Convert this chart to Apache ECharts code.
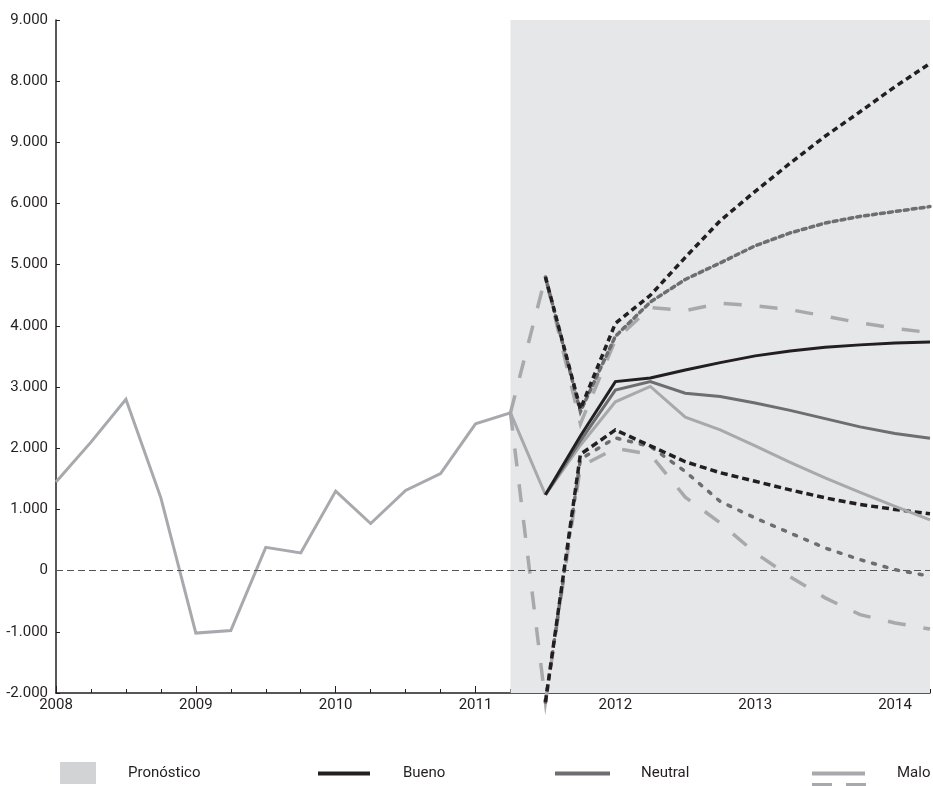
<!DOCTYPE html>
<html>
<head>
<meta charset="utf-8">
<script src="https://cdn.jsdelivr.net/npm/echarts@6/dist/echarts.min.js"></script>
<style>
html,body{margin:0;padding:0;background:#fff;}
#chart{width:933px;height:786px;}
</style>
</head>
<body>
<div id="chart"></div>
<script>
// ---- Data ----
const years = ['2008','2009','2010','2011','2012','2013','2014'];
const quarters = ['T1','T2','T3','T4'];
const yTickLabels = ['-2.000','-1.000','0','1.000','2.000','3.000','4.000','5.000','6.000','9.000','8.000','9.000'];

// historical (2008T1 .. 2011T3)
const historico = [1450, 2100, 2800, 1190, -1020, -980, 380, 290, 1300, 770, 1310, 1585, 2400, 2580, 1240];

// scenarios (2011T3 .. 2014T2)
const bueno   = [1240, 2200, 3090, 3150, 3280, 3400, 3510, 3590, 3650, 3690, 3720, 3735];
const neutral = [1240, 2120, 2950, 3090, 2900, 2845, 2740, 2620, 2485, 2350, 2240, 2165];
const malo    = [1240, 2050, 2760, 3010, 2510, 2300, 2040, 1770, 1515, 1280, 1050, 830];

// bands (2011T3 .. 2014T2)
const buenoAlto   = [4800, 2640, 4040, 4500, 5120, 5720, 6200, 6660, 7100, 7500, 7910, 8290];
const buenoBajo   = [-2150, 1900, 2300, 2040, 1780, 1600, 1460, 1320, 1190, 1080, 1000, 930];
const neutralAlto = [4800, 2600, 3830, 4390, 4760, 5030, 5310, 5520, 5680, 5790, 5870, 5950];
const neutralBajo = [-2150, 1820, 2170, 2030, 1620, 1130, 860, 615, 370, 180, 15, -90];
// Malo bands (2011T2 .. 2014T2)
const maloAlto = [2580, 4800, 2400, 3770, 4300, 4250, 4370, 4330, 4265, 4160, 4050, 3960, 3890];
const maloBajo = [2580, -2150, 1700, 2000, 1900, 1200, 780, 290, -100, -445, -720, -855, -955];

// ---- Build ----
const xCategories = [];
years.forEach(y => quarters.forEach(q => xCategories.push(y + q)));
xCategories.length = 26; // 2008T1 .. 2014T2

function pad(arr, start) {
  const out = new Array(start).fill(null).concat(arr);
  while (out.length < xCategories.length) out.push(null);
  return out;
}

const FONT = 'Roboto, "Liberation Sans", sans-serif';
const C_BUENO = '#231f20', C_NEUTRAL = '#6d6e71', C_MALO = '#a7a9ac';

function lineSeries(name, data, color, width, type, cap, z) {
  return {
    name: name, type: 'line', data: data, symbol: 'none', smooth: false,
    clip: false, z: z || 3, silent: true, connectNulls: false,
    lineStyle: { color: color, width: width, type: type, cap: cap || 'butt', join: 'miter' },
    itemStyle: { color: color }
  };
}

const chart = echarts.init(document.getElementById('chart'), null, { renderer: 'canvas' });

const legendText = { fontFamily: FONT, fontSize: 15, color: '#231f20' };

const option = {
  animation: false,
  backgroundColor: '#ffffff',
  textStyle: { fontFamily: FONT },
  grid: { left: 56, right: 3, top: 20, bottom: 93, containLabel: false },
  xAxis: [{
    type: 'category', data: xCategories, boundaryGap: false,
    axisLine: { show: true, onZero: false, lineStyle: { color: '#231f20', width: 1.5 } },
    axisTick: { show: true, inside: true, length: 4, interval: 0, lineStyle: { color: '#231f20', width: 1 } },
    axisLabel: {
      interval: 3, margin: 5, color: '#231f20', fontSize: 15, fontFamily: FONT,
      formatter: v => v.slice(0, 4)
    },
    splitLine: { show: false }
  }, {
    type: 'category', data: xCategories, boundaryGap: false, position: 'bottom',
    axisLine: { show: false, onZero: false },
    axisTick: { show: true, inside: true, length: 7, interval: 3, lineStyle: { color: '#231f20', width: 1 } },
    axisLabel: { show: false }, splitLine: { show: false }
  }],
  yAxis: {
    type: 'value', min: -2000, max: 9000, interval: 1000,
    axisLine: { show: true, onZero: false, lineStyle: { color: '#231f20', width: 1.5 } },
    axisTick: { show: true, inside: true, length: 4, lineStyle: { color: '#231f20', width: 1 } },
    axisLabel: {
      color: '#231f20', fontSize: 15, margin: 8, fontFamily: FONT,
      formatter: v => yTickLabels[Math.round((v + 2000) / 1000)]
    },
    splitLine: { show: false }
  },
  legend: [
    { data: ['Pronóstico'], left: 60, top: 762, padding: 0, icon: 'rect', itemWidth: 36, itemHeight: 22,
      textStyle: Object.assign({ padding: [0, 0, 0, 27] }, legendText), selectedMode: false },
    { data: ['Bueno'], left: 318, top: 766, padding: 0, icon: 'rect', itemWidth: 52, itemHeight: 4,
      textStyle: Object.assign({ padding: [0, 0, 0, 28] }, legendText), selectedMode: false },
    { data: ['Neutral'], left: 555, top: 766, padding: 0, icon: 'rect', itemWidth: 55, itemHeight: 4,
      textStyle: Object.assign({ padding: [0, 0, 0, 26] }, legendText), selectedMode: false },
    { data: ['Malo'], left: 812, top: 766, padding: 0, icon: 'rect', itemWidth: 53, itemHeight: 4,
      textStyle: Object.assign({ padding: [0, 0, 0, 27] }, legendText), selectedMode: false }
  ],
  graphic: [{
    type: 'line', silent: true,
    shape: { x1: 812, y1: 785, x2: 866, y2: 785 },
    style: { stroke: C_MALO, lineWidth: 4, lineDash: [20, 14] }
  }],
  series: [
    {
      name: 'Pronóstico', type: 'line', data: [], symbol: 'none', z: 1, silent: true,
      itemStyle: { color: '#d2d3d5' }, lineStyle: { color: '#d2d3d5' },
      markArea: {
        silent: true, itemStyle: { color: '#e6e7e8' },
        data: [[{ xAxis: xCategories[13] }, { xAxis: xCategories[25] }]]
      },
      markLine: {
        silent: true, symbol: ['none', 'none'], label: { show: false },
        lineStyle: { color: '#555', width: 1, type: [7, 4] },
        data: [{ yAxis: 0 }]
      }
    },
    lineSeries('Histórico', pad(historico, 0), C_MALO, 3, 'solid', 'butt', 3),
    lineSeries('Malo alto', pad(maloAlto, 13), C_MALO, 3.5, [18, 18], 'butt', 4),
    lineSeries('Malo bajo', pad(maloBajo, 13), C_MALO, 3.5, [18, 18], 'butt', 4),
    lineSeries('Neutral alto', pad(neutralAlto, 14), C_NEUTRAL, 3.5, [4, 4], 'round', 5),
    lineSeries('Neutral bajo', pad(neutralBajo, 14), C_NEUTRAL, 3.5, [3, 9], 'round', 5),
    lineSeries('Bueno alto', pad(buenoAlto, 14), C_BUENO, 3.5, [6, 4], 'butt', 6),
    lineSeries('Bueno bajo', pad(buenoBajo, 14), C_BUENO, 3.5, [7, 4], 'butt', 6),
    lineSeries('Malo', pad(malo, 14), C_MALO, 3, 'solid', 'butt', 7),
    lineSeries('Neutral', pad(neutral, 14), C_NEUTRAL, 3, 'solid', 'butt', 8),
    lineSeries('Bueno', pad(bueno, 14), C_BUENO, 3, 'solid', 'butt', 9)
  ]
};

chart.setOption(option);
</script>
</body>
</html>
